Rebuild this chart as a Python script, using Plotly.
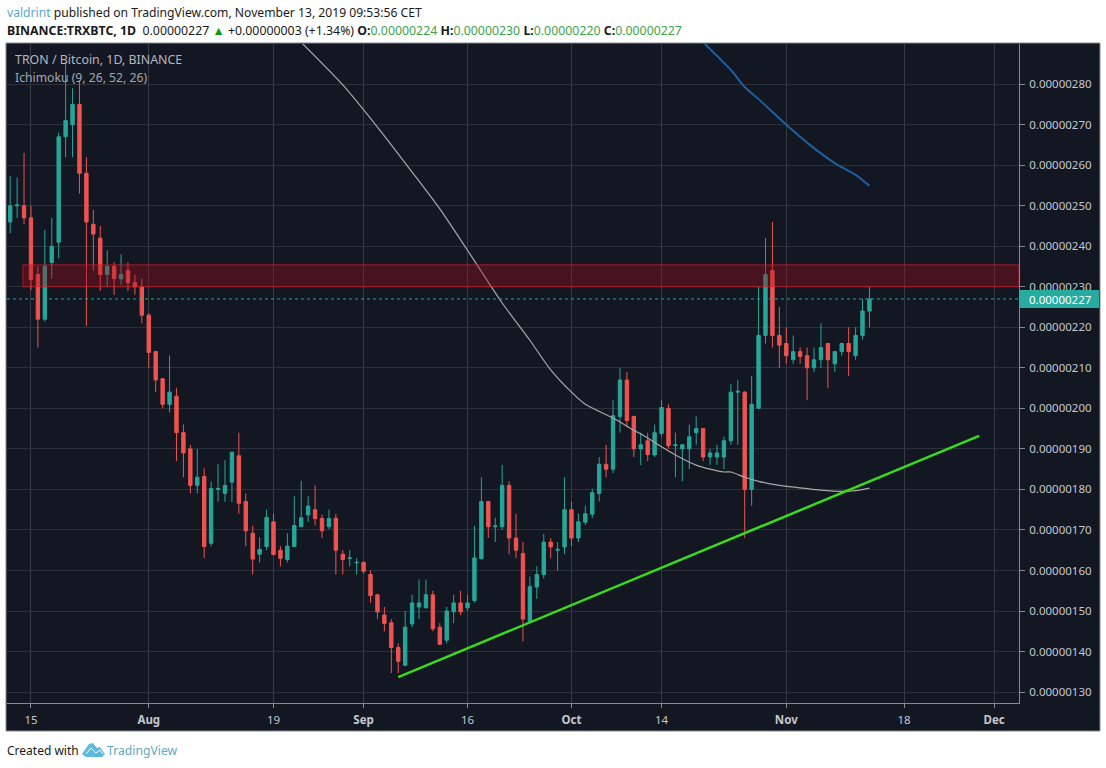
import plotly.graph_objects as go
import pandas as pd

# candles in satoshi (1e-8 BTC)
dates = pd.date_range("2019-07-12", periods=125, freq="D")
opens = [246, 250, 250, 247, 233, 222, 236, 241, 267, 270, 275, 258, 245.4, 242, 233, 235, 232, 234, 231, 230,
         223, 214, 207.3, 201, 203, 194, 190, 181, 183.2, 166.7, 180, 179, 181.8, 188.3, 177, 169.2, 164, 165.9, 172, 165,
         162.7, 165.9, 170.8, 173.7, 175, 172.8, 170.8, 172.9, 164, 163, 161.9, 162, 159, 154, 149, 147.1, 141, 136.6, 146.8, 151,
         150.8, 154, 146, 142.8, 149.8, 152, 150.8, 152.6, 162.9, 177, 170.8, 170.8, 181, 168, 164.2, 147.3, 155.9, 159, 167, 165,
         165.8, 175, 168, 171.9, 173.9, 179, 186.2, 185, 198, 207, 198, 190, 192, 188.5, 193.8, 200, 190.8, 190, 190, 194,
         195, 188, 188, 188, 192, 204, 204, 180, 200, 218, 234, 218, 216, 212, 214, 213, 210, 212, 216, 211,
         214, 216, 213, 218, 224]
highs = [257.3, 257, 263, 250, 235, 244, 247, 268, 285, 279, 281, 262, 249, 245, 239, 236, 238, 236, 233, 232,
         223.5, 214.2, 207.5, 213, 205, 196, 191, 190, 185.2, 182, 186.2, 187.2, 189.2, 194, 179, 171, 168.2, 175, 174, 166,
         169.2, 178.3, 182.1, 178.3, 181, 173.8, 175, 174, 165, 165, 163, 162.2, 160, 154.2, 151, 148, 142, 150, 154, 157.8,
         157.8, 155, 147, 151, 154, 155, 154, 171, 183, 177.2, 173, 186, 182, 174, 167, 158.5, 161, 169, 168, 167,
         183, 177, 174, 176, 180.2, 188, 191, 202, 210, 209, 198.2, 194, 194, 196, 202, 201, 194, 191.2, 196, 198,
         195.2, 190, 191, 193, 206, 207, 204.2, 208, 230, 242, 246, 225, 220, 218, 215, 215, 215, 221, 216.2, 214.2,
         216.2, 220, 220, 227, 230]
lows = [243.2, 247, 245.4, 229.2, 215, 221.4, 232, 237, 262, 262, 253, 220.3, 234, 229, 230, 228, 230.5, 229, 228, 221,
        210, 204, 200, 199, 187, 183, 179, 179, 163, 166, 177, 176.9, 176.9, 174, 166, 159, 162, 165, 163.8, 161,
        162, 165.8, 170.8, 172, 171.1, 168, 170.2, 159, 159, 161, 159, 159.2, 152, 148, 145, 134.7, 134.7, 136.4, 146, 148,
        150.6, 145, 141.6, 142, 147, 149, 150, 152, 162.7, 168, 167, 170, 164, 163, 142.5, 147.1, 153, 158, 163, 160,
        164, 166, 167, 171.2, 172.9, 177, 183, 184, 194, 195.5, 188, 186, 187, 188, 193, 190, 183, 182, 185, 191,
        187, 186, 186, 185, 191, 191, 168, 176, 200, 216, 215, 210, 211, 211, 211, 202, 209, 210, 205, 209,
        213, 208, 212, 217, 220]
closes = [250, 250.2, 247, 231.8, 222, 235.1, 240, 267, 271, 275, 258, 246, 243, 233, 235, 232, 233, 231, 230, 223,
          213.8, 207, 201, 204, 194, 189, 181, 183, 165.9, 180.2, 180.2, 181, 189.2, 176.6, 169.8, 162.8, 165.2, 173.1, 163.9, 163,
          166, 171.1, 173, 175.9, 172.8, 169.8, 172.8, 165, 162.7, 163.1, 162, 159.8, 153.8, 149.8, 146.9, 141, 137.6, 146, 152, 152,
          154, 145.6, 141.8, 150, 152, 149.8, 152, 163.1, 177, 170.8, 171, 181, 168, 165, 148, 156, 159, 167, 165.8, 165.2,
          175, 168, 172, 174, 179.2, 186.2, 185, 198.2, 207, 197, 190, 191, 188.6, 194, 200.2, 190.8, 191, 191, 193, 195,
          188, 189, 189, 192, 204, 204.2, 180, 201, 218, 233, 218, 215.6, 213, 214, 212.8, 210, 212, 215, 212, 214,
          216, 214, 218, 224, 227]

# long moving averages that run through the chart
grey_dates = ["2019-08-22", "2019-08-29", "2019-09-03", "2019-09-08", "2019-09-12", "2019-09-16", "2019-09-21", "2019-09-25",
              "2019-09-28", "2019-10-01", "2019-10-03", "2019-10-07", "2019-10-10", "2019-10-12", "2019-10-14", "2019-10-16",
              "2019-10-19", "2019-10-21", "2019-10-23", "2019-10-24", "2019-10-26", "2019-10-28", "2019-10-31", "2019-11-03",
              "2019-11-06", "2019-11-09", "2019-11-11", "2019-11-13"]
grey_values = [292, 279.8, 269.4, 258.3, 249.2, 239, 226, 216.8, 209.5, 204, 201, 197.6, 194.6, 192.7, 190.5, 188.5,
               186, 185, 184.3, 184.3, 183, 182, 181, 180.4, 179.8, 179.5, 179.7, 180.3]
blue_dates = ["2019-10-19", "2019-10-24", "2019-10-26", "2019-10-28", "2019-11-01", "2019-11-05", "2019-11-08", "2019-11-11", "2019-11-13"]
blue_values = [292, 283.5, 279.3, 276.3, 270, 264.2, 260.5, 257.6, 254.9]

# hand drawn trend line and resistance zone
trend_dates = ["2019-09-06", "2019-11-28 20:00"]
trend_values = [133.7, 193.2]
zone_start = "2019-07-13 20:00"
zone_low, zone_high = 230, 235.4
last_price = 227

price_ticks = [130, 140, 150, 160, 170, 180, 190, 200, 210, 220, 230, 240, 250, 260, 270, 280]
price_labels = ["0.00000130", "0.00000140", "0.00000150", "0.00000160", "0.00000170", "0.00000180", "0.00000190", "0.00000200",
                "0.00000210", "0.00000220", "0.00000230", "0.00000240", "0.00000250", "0.00000260", "0.00000270", "0.00000280"]
time_ticks = ["2019-07-15", "2019-08-01", "2019-08-19", "2019-09-01", "2019-09-16", "2019-10-01", "2019-10-14", "2019-11-01", "2019-11-18", "2019-12-01"]
time_labels = ["15", "<b>Aug</b>", "19", "<b>Sep</b>", "16", "<b>Oct</b>", "14", "<b>Nov</b>", "18", "<b>Dec</b>"]

W, H = 1106, 768
LEFT, RIGHT, TOP, BOTTOM = 7, 1019, 44, 703
BG = "#131722"
TEAL = "#26a69a"
RED = "#ef5350"
FONT = "Noto Sans"


def px(x):
    return (x - LEFT) / (RIGHT - LEFT)


def py(y):
    return (BOTTOM - y) / (BOTTOM - TOP)


fig = go.Figure()
fig.add_trace(go.Candlestick(
    x=dates, open=opens, high=highs, low=lows, close=closes,
    increasing=dict(line=dict(color=TEAL, width=1), fillcolor=TEAL),
    decreasing=dict(line=dict(color=RED, width=1), fillcolor=RED),
))
fig.add_trace(go.Scatter(x=grey_dates, y=grey_values, mode="lines",
                         line=dict(color="#a8a8a8", width=1.2, shape="spline", smoothing=0.7)))
fig.add_trace(go.Scatter(x=blue_dates, y=blue_values, mode="lines",
                         line=dict(color="#1e5f9e", width=2, shape="spline", smoothing=0.7)))
fig.add_trace(go.Scatter(x=trend_dates, y=trend_values, mode="lines", line=dict(color="#3ada1c", width=2.5)))

shapes = [
    # dark chart panel with its frame, also behind the two axes
    dict(type="rect", xref="paper", yref="paper", x0=px(6), x1=px(1100), y0=py(731), y1=py(43),
         fillcolor=BG, line=dict(color="#858a93", width=1), layer="below"),
    # resistance zone
    dict(type="rect", xref="x", yref="y", x0=zone_start, x1="2019-12-04 14:00", y0=zone_low, y1=zone_high,
         fillcolor="rgba(165,15,25,0.36)", line=dict(color="rgba(215,30,42,0.75)", width=1)),
    # last price line and label
    dict(type="line", xref="paper", yref="y", x0=0, x1=1, y0=last_price, y1=last_price,
         line=dict(color=TEAL, width=1, dash="dot")),
    dict(type="rect", xref="paper", yref="paper", x0=px(1020), x1=px(1099), y0=py(308), y1=py(290),
         fillcolor="#28ab9f", line=dict(width=0)),
    # TradingView logo
    dict(type="path", xref="paper", yref="paper",
         path=" ".join(f"{c}{px(x)},{py(y)}" for c, x, y in [
             ("M", 82, 754), ("L", 89, 744), ("L", 93, 743), ("L", 97, 748), ("L", 100, 747),
             ("L", 105, 754), ("L", 102, 757), ("L", 86, 757)]) + " Z",
         fillcolor="#5fb9de", line=dict(width=0)),
    dict(type="path", xref="paper", yref="paper",
         path=" ".join(f"{c}{px(x)},{py(y)}" for c, x, y in [
             ("M", 86, 754), ("L", 91, 748), ("L", 96, 753), ("L", 100, 750), ("L", 103, 754)]),
         line=dict(color="white", width=1)),
]

green = "#3fa34d"
line_1 = ('<span style="color:#57a9cc">valdrint</span> published on TradingView.com, November 13, 2019 09:53:56 CET')
line_2 = ('<b>BINANCE:TRXBTC, 1D</b>  0.00000227 <span style="color:#119911">▲</span> +0.00000003 (+1.34%) '
          f'<b>O:</b><span style="color:{green}">0.00000224</span> <b>H:</b><span style="color:{green}">0.00000230</span> '
          f'<b>L:</b><span style="color:{green}">0.00000220</span> <b>C:</b><span style="color:{green}">0.00000227</span>')


def label(x, y, text, size, color, font=FONT, anchor="left"):
    return dict(xref="paper", yref="paper", x=px(x), y=py(y), text=text, showarrow=False, xanchor=anchor, yanchor="middle",
                align="left", font=dict(family=font, size=size, color=color))


annotations = [
    label(5, 12, line_1, 12.15, "#1a1a1a"),
    label(5, 30, line_2, 12.33, "#1a1a1a"),
    label(13, 60, "TRON / Bitcoin, 1D, BINANCE", 12.4, "#b4b7c0"),
    label(13, 77, "Ichimoku (9, 26, 52, 26)", 12.2, "#a4a7b0"),
    label(1027, 299, "0.00000227", 11.5, "white"),
    label(5, 750, "Created with", 12, "#1a1a1a"),
    label(105, 750, "TradingView", 12.2, "#5fa8c9"),
]

fig.update_layout(
    width=W, height=H,
    margin=dict(l=LEFT, r=W - RIGHT, t=TOP, b=H - BOTTOM, pad=0),
    paper_bgcolor="white",
    plot_bgcolor="rgba(0,0,0,0)",
    showlegend=False,
    shapes=shapes,
    annotations=annotations,
    font=dict(family=FONT, color="#b2b5be"),
    xaxis=dict(
        type="date", range=["2019-07-11 13:00", "2019-12-04 14:00"],
        rangeslider=dict(visible=False),
        tickmode="array", tickvals=time_ticks, ticktext=time_labels,
        ticks="outside", ticklen=4, tickcolor="#858a93", tickfont=dict(size=11.5, color="#c4c7cf"),
        ticklabelstandoff=2,
        showgrid=True, gridcolor="#363a45", gridwidth=1,
        showline=True, linecolor="#858a93", zeroline=False,
    ),
    yaxis=dict(
        side="right", range=[127.3, 289.9],
        tickmode="array", tickvals=price_ticks, ticktext=price_labels,
        ticks="outside", ticklen=5, tickcolor="#858a93", tickfont=dict(size=11.5, color="#c4c7cf"),
        ticklabelstandoff=2,
        showgrid=True, gridcolor="#2c303b", gridwidth=1,
        showline=True, linecolor="#858a93", zeroline=False,
    ),
)

fig.write_html("out.html", config=dict(displayModeBar=False), post_script="document.body.style.margin='0';")
